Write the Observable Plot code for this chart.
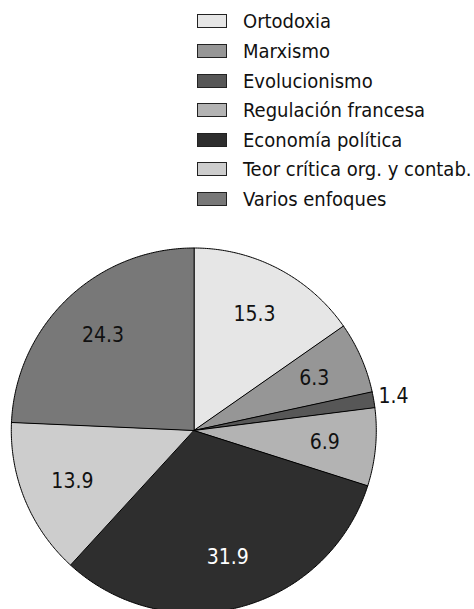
<!DOCTYPE html>
<html><head><meta charset="utf-8">
<script src="https://cdn.jsdelivr.net/npm/d3@7"></script>
<script src="https://cdn.jsdelivr.net/npm/@observablehq/plot@0.6"></script>
<style>
body{margin:0;background:#fff;font-family:"Liberation Sans Narrow","DejaVu Sans Condensed",sans-serif;}
#legend{height:230px;box-sizing:border-box;padding-top:6.7px;padding-left:197px;}
.row{height:29.6px;display:flex;align-items:center;font-size:20px;color:#111;white-space:nowrap;}
.sw{width:30px;height:14px;box-sizing:border-box;border:1.5px solid #222;margin-right:16px;flex:none;}
#chart svg{display:block;overflow:visible;}
</style></head>
<body>
<div id="legend"></div>
<div id="chart"></div>
<script>
const categories = ["Ortodoxia","Marxismo","Evolucionismo","Regulación francesa","Economía política","Teor crítica org. y contab.","Varios enfoques"];
const values = [15.3, 6.3, 1.4, 6.9, 31.9, 13.9, 24.3];
const colors = ["#e6e6e6","#969696","#575757","#b3b3b3","#2e2e2e","#cdcdcd","#787878"];
const labelColors = ["#111","#111","#111","#111","#fff","#111","#111"];

const legend = document.getElementById("legend");
categories.forEach((c,i)=>{
  const r = document.createElement("div"); r.className="row";
  const s = document.createElement("div"); s.className="sw"; s.style.background=colors[i];
  const t = document.createElement("span"); t.textContent=c;
  r.appendChild(s); r.appendChild(t); legend.appendChild(r);
});

const W = 474, H = 379, R = 182.5, cx = 193.3, cy = 200;
const arcs = d3.pie().sort(null).startAngle(0).endAngle(2*Math.PI)(values);
const pts = [];
arcs.forEach((a,i)=>{
  pts.push({cat:categories[i], x:0, y:0});
  const n = Math.max(4, Math.ceil((a.endAngle-a.startAngle)/0.01));
  for(let k=0;k<=n;k++){
    const t = a.startAngle + (a.endAngle-a.startAngle)*k/n;
    pts.push({cat:categories[i], x:R*Math.sin(t), y:-R*Math.cos(t)});
  }
});
const labels = arcs.map((a,i)=>{
  const m = (a.startAngle+a.endAngle)/2;
  const rr = values[i] < 3 ? R + 20 : R*0.72;
  return {txt: String(values[i]), x: rr*Math.sin(m), y: -rr*Math.cos(m), col: values[i] < 3 ? "#111" : labelColors[i]};
});

const plot = Plot.plot({
  width: W, height: H,
  margin: 0,
  x: {domain: [-cx, W-cx], range: [0, W], axis: null},
  y: {domain: [-cy, H-cy], range: [0, H], axis: null},
  color: {domain: categories, range: colors},
  style: {fontFamily: '"Liberation Sans Narrow","DejaVu Sans Condensed",sans-serif', overflow: "visible"},
  marks: [
    Plot.line(pts, {x:"x", y:"y", z:"cat", fill:"cat", stroke:"#000", strokeWidth:1, curve:"linear-closed", strokeLinejoin:"miter"}),
    Plot.text(labels, {x:"x", y:"y", text:"txt", fill:"col", fontSize:21})
  ]
});
document.getElementById("chart").appendChild(plot);
</script>
</body></html>
